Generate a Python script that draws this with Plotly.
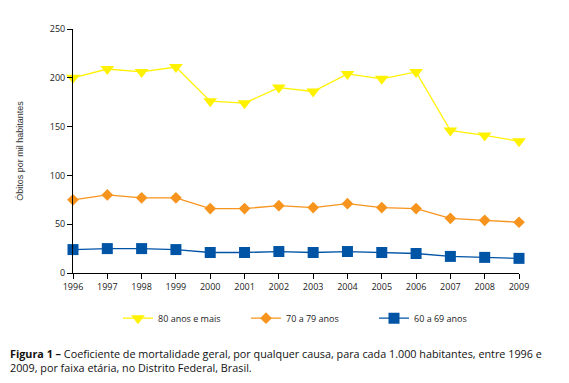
import plotly.graph_objects as go

years = list(range(1996, 2010))
s80 = [200, 209, 206, 211, 176, 174, 190, 186, 204, 199, 206, 146, 141, 135]
s70 = [75, 80, 77, 77, 66, 66, 69, 67, 71, 67, 66, 56, 54, 52]
s60 = [24, 25, 25, 24, 21, 21, 22, 21, 22, 21, 20, 17, 16, 15]
names = ["80 anos e mais", "70 a 79 anos", "60 a 69 anos"]
yticks = [0, 50, 100, 150, 200, 250]

fig = go.Figure()
fig.add_trace(go.Scatter(x=years, y=s80, name=names[0], mode="lines+markers",
                         line=dict(color="#FFF200", width=1.3),
                         marker=dict(symbol="triangle-down", size=12, color="#FFF200"),
                         cliponaxis=False))
fig.add_trace(go.Scatter(x=years, y=s70, name=names[1], mode="lines+markers",
                         line=dict(color="#F7941D", width=1.3),
                         marker=dict(symbol="diamond", size=9, color="#F7941D"),
                         cliponaxis=False))
fig.add_trace(go.Scatter(x=years, y=s60, name=names[2], mode="lines+markers",
                         line=dict(color="#0054A6", width=1.3),
                         marker=dict(symbol="square", size=11, color="#0054A6"),
                         cliponaxis=False))

fig.update_layout(
    width=569, height=383,
    margin=dict(l=73, r=50, t=29, b=110, autoexpand=False),
    paper_bgcolor="white", plot_bgcolor="white",
    font=dict(family="Open Sans", size=9, color="#222"),
    showlegend=True,
    legend=dict(orientation="h", x=0.5 + 14 / 446, xanchor="center", y=-0.185, yanchor="middle",
                font=dict(size=9), entrywidth=83, itemwidth=30),
    xaxis=dict(range=[1996, 2009], tickvals=years, showgrid=False, zeroline=False,
               showline=True, linecolor="black", linewidth=1, automargin=False,
               ticks="outside", ticklen=5, tickcolor="black",
               tickfont=dict(family="Open Sans", size=9, color="#222")),
    yaxis=dict(range=[0, 250], tickvals=yticks, showgrid=False, zeroline=False,
               showline=True, linecolor="black", linewidth=1, automargin=False,
               ticks="outside", ticklen=5, tickcolor="black",
               tickfont=dict(family="Open Sans", size=9, color="#222"),
               title=dict(text="Óbitos por mil habitantes", standoff=24,
                          font=dict(family="Liberation Sans", size=9, color="#333"))),
)

fig.add_annotation(xref="paper", yref="paper", x=(8 - 73) / 446, y=(273 - 344) / 244,
                   xanchor="left", yanchor="top", align="left", showarrow=False,
                   text="<b>Figura 1 –</b> Coeficiente de mortalidade geral, por qualquer causa, para cada 1.000 habitantes, entre 1996 e<br>2009, por faixa etária, no Distrito Federal, Brasil.",
                   font=dict(family="Open Sans", size=10.8, color="#111"))

fig.write_html("out.html", config={"displayModeBar": False},
               post_script="document.body.style.margin='0';")
